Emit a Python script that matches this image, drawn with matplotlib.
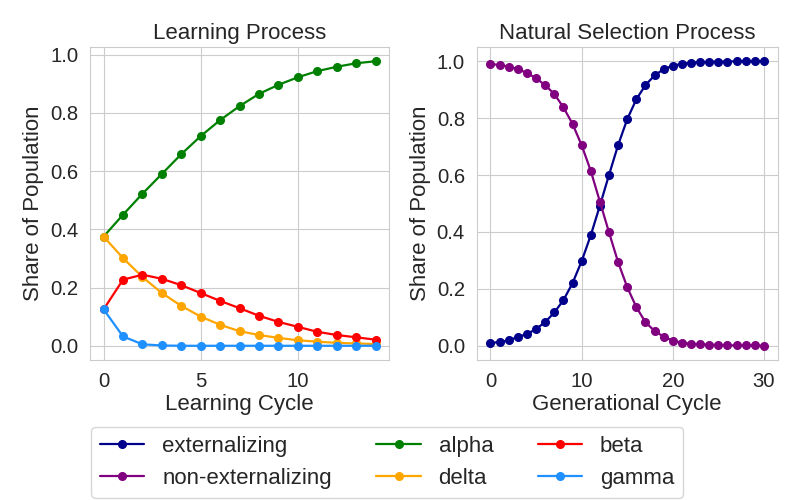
import matplotlib
matplotlib.use('Agg')
import matplotlib.pyplot as plt
import seaborn as sns

sns.set_style('whitegrid')
plt.rcParams['font.family'] = ['Liberation Sans', 'DejaVu Sans']

# learning process (cycles 0..14)
alpha = [0.375, 0.450, 0.522, 0.590, 0.658, 0.720, 0.775, 0.823, 0.865, 0.896,
         0.922, 0.943, 0.958, 0.970, 0.977]
delta = [0.375, 0.301, 0.236, 0.181, 0.137, 0.100, 0.072, 0.050, 0.037, 0.027,
         0.019, 0.014, 0.010, 0.008, 0.006]
beta = [0.125, 0.227, 0.244, 0.230, 0.208, 0.181, 0.154, 0.129, 0.103, 0.082,
        0.065, 0.048, 0.037, 0.029, 0.021]
gamma = [0.125, 0.032, 0.005, 0.001, 0.0, 0.0, 0.0, 0.0, 0.0, 0.0,
         0.0, 0.0, 0.0, 0.0, 0.0]

# natural selection (generations 0..30)
externalizing = [0.010, 0.013, 0.019, 0.031, 0.041, 0.059, 0.083, 0.117, 0.160, 0.220,
                 0.297, 0.388, 0.492, 0.600, 0.705, 0.796, 0.866, 0.916, 0.950, 0.972,
                 0.984, 0.991, 0.995, 0.997, 0.998, 0.999, 0.999, 1.0, 1.0, 1.0, 1.0]
non_externalizing = [0.990, 0.987, 0.981, 0.972, 0.959, 0.940, 0.916, 0.885, 0.838, 0.780,
                     0.705, 0.615, 0.507, 0.399, 0.294, 0.206, 0.136, 0.083, 0.052, 0.032,
                     0.018, 0.011, 0.007, 0.005, 0.004, 0.003, 0.002, 0.001, 0.001, 0.001, 0.0]

fs = 16
tfs = 14.6
fig = plt.figure(figsize=(8, 5), dpi=100)
ax1 = fig.add_axes([0.1125, 0.28, 0.374, 0.626])
ax2 = fig.add_axes([0.596, 0.28, 0.376, 0.626])

kw = dict(marker='o', markersize=5.5, linewidth=1.6)
cyc = range(len(alpha))
l_alpha, = ax1.plot(cyc, alpha, color='green', label='alpha', **kw)
l_delta, = ax1.plot(cyc, delta, color='orange', label='delta', **kw)
l_beta, = ax1.plot(cyc, beta, color='red', label='beta', **kw)
l_gamma, = ax1.plot(cyc, gamma, color='dodgerblue', label='gamma', **kw)
ax1.set_title('Learning Process', fontsize=fs)
ax1.set_xlabel('Learning Cycle', fontsize=fs, labelpad=2)
ax1.set_ylabel('Share of Population', fontsize=fs)
ax1.set_xticks([0, 5, 10])

gen = range(len(externalizing))
l_ext, = ax2.plot(gen, externalizing, color='darkblue', label='externalizing', **kw)
l_non, = ax2.plot(gen, non_externalizing, color='purple', label='non-externalizing', **kw)
ax2.set_title('Natural Selection Process', fontsize=fs)
ax2.set_xlabel('Generational Cycle', fontsize=fs, labelpad=2)
ax2.set_ylabel('Share of Population', fontsize=fs)
ax2.set_xticks([0, 10, 20, 30])

for ax in (ax1, ax2):
    ax.tick_params(labelsize=tfs, pad=5)

handles = [l_ext, l_non, l_alpha, l_delta, l_beta, l_gamma]
fig.legend(handles=handles, labels=[h.get_label() for h in handles],
           loc='upper center', bbox_to_anchor=(0.484, 0.146), ncol=3,
           fontsize=fs, frameon=True, borderaxespad=0.0)

fig.savefig('out.png', dpi=100)
